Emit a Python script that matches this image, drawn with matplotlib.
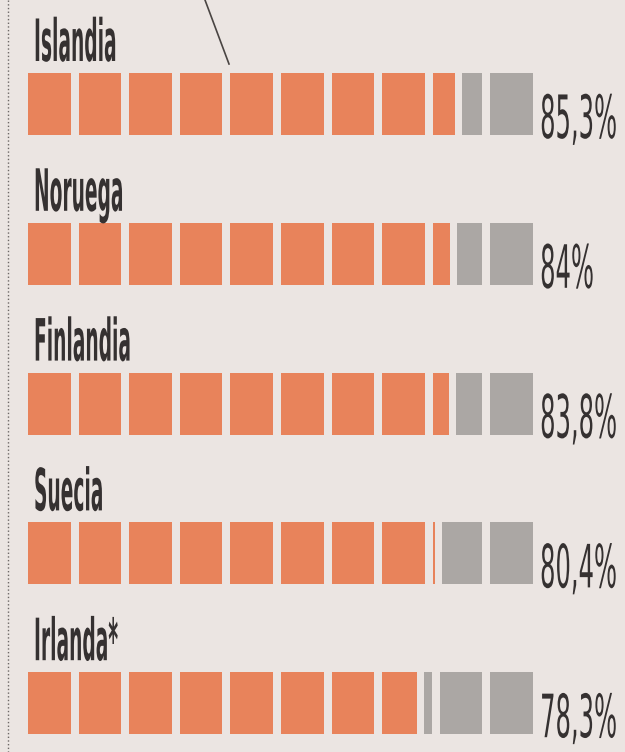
import matplotlib.pyplot as plt
from matplotlib.patches import Rectangle
from matplotlib.patheffects import AbstractPathEffect
from matplotlib.transforms import Affine2D

countries = ['Islandia', 'Noruega', 'Finlandia', 'Suecia', 'Irlanda*']
values = [85.3, 84.0, 83.8, 80.4, 78.3]
pct_labels = ['85,3%', '84%', '83,8%', '80,4%', '78,3%']

orange = '#e8835b'
grey = '#aba7a4'
paper = '#ebe5e2'
ink = '#353131'

plt.rcParams['font.family'] = ['Liberation Sans Narrow', 'DejaVu Sans']


class Squeeze(AbstractPathEffect):
    # compress glyphs horizontally (the paper uses an ultra-condensed face)
    def __init__(self, sx, right=False):
        super().__init__()
        self.sx = sx
        self.right = right

    def draw_path(self, renderer, gc, tpath, affine, rgbFace=None):
        xr = tpath.get_extents().x1 if self.right else 0
        tr = Affine2D().translate(-xr, 0).scale(self.sx, 1).translate(xr, 0)
        renderer.draw_path(gc, tpath, tr + affine, rgbFace)


fig = plt.figure(figsize=(6.25, 7.52), dpi=100, facecolor=paper)
ax = fig.add_axes([0, 0, 1, 1])
ax.set_xlim(0, 625)
ax.set_ylim(752, 0)
ax.axis('off')
renderer = fig.canvas.get_renderer()

name_style = dict(fontsize=42, fontweight='bold', color=ink, va='baseline')
pct_style = dict(fontsize=43, color=ink, va='baseline')


def text_width(s, style):
    t = ax.text(0, 0, s, **style)
    w = t.get_window_extent(renderer).width
    t.remove()
    return w


# squeeze factors so that sample strings get the printed widths
name_sx = 97 / text_width('Finlandia', name_style)
pct_sx = 77 / text_width('80,4%', pct_style)

x0 = 28
cell = 42.5
gap = 8.1
split_gap = 7
top0 = 73
step = 149.8
bar_h = 62

for i, (name, v, lab) in enumerate(zip(countries, values, pct_labels)):
    top = top0 + i * step
    full = int(v // 10)
    part = (v - full * 10) / 10
    x = x0
    for k in range(10):
        if k < full:
            ax.add_patch(Rectangle((x, top), cell, bar_h, color=orange, lw=0))
        elif k == full and part > 0:
            w = cell * part
            ax.add_patch(Rectangle((x, top), w, bar_h, color=orange, lw=0))
            ax.add_patch(Rectangle((x + w + split_gap, top), cell - w, bar_h, color=grey, lw=0))
            x += split_gap
        else:
            ax.add_patch(Rectangle((x, top), cell, bar_h, color=grey, lw=0))
        x += cell + gap

    t = ax.text(34, top - 12, name, ha='left', **name_style)
    t.set_path_effects([Squeeze(name_sx)])

    # right-anchored so the (unsqueezed) text box stays inside the figure
    w = text_width(lab, pct_style)
    p = ax.text(542 + pct_sx * w, top + bar_h + 3, lab, ha='right', **pct_style)
    p.set_path_effects([Squeeze(pct_sx, right=True)])

# page furniture: dotted column rule and a leader line from above
ax.plot([8, 8], [0, 752], color='#6d6866', lw=1, ls=':')
ax.plot([205, 229], [0, 64], color='#4a4543', lw=1.2)

fig.savefig('out.png', dpi=100, facecolor=paper)
